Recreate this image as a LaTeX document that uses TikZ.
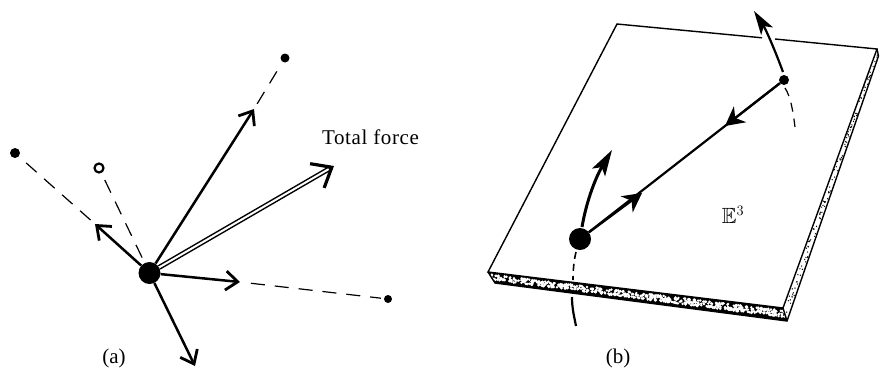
\documentclass[tikz,border=0pt]{standalone}
\usepackage{amssymb}
\usepackage{fontspec}
\setmainfont{Liberation Serif}
\newfontfamily\spaced[LetterSpace=3]{Liberation Serif}
\usetikzlibrary{arrows.meta,calc}
\begin{document}
\begin{tikzpicture}[x=1pt,y=-1pt,
  bigdot/.style={circle,fill=black,inner sep=0pt,minimum size=#1},
  ring/.style={circle,draw=black,line width=2.2pt,fill=white,inner sep=0pt,minimum size=9pt},
  force/.style={line width=2.5pt,-{Straight Barb[length=12pt,width=19pt,line width=2.8pt]}},
  thin dash/.style={line width=1.2pt,dash pattern=on 14pt off 10pt},
  plate/.style={line width=1.4pt},
  flow/.style={line width=2.2pt,-{Stealth[length=19pt,width=20pt,inset=6pt]}},
  label/.style={font=\fontsize{21}{24}\selectfont,inner sep=0pt}]
\useasboundingbox (0,0) rectangle (880,368);
% ---------- panel (a)
\node[bigdot=22pt] (c) at (149.5,273) {};
\node[bigdot=9pt] (p1) at (285,58) {};
\node[bigdot=10pt] (p2) at (15,153) {};
\node[ring] (p3) at (99,168) {};
\node[bigdot=8pt] (p4) at (388,299) {};
\coordinate (t1) at (254,109);
\coordinate (t2) at (334,166);
\coordinate (t3) at (240,282);
\coordinate (t4) at (95,224);
\coordinate (t5) at (195,366);
\coordinate (t2s) at ($(t2)!3pt!(c)$);
\draw[force] (c) -- (t1);
\draw[force] (c) -- (t3);
\draw[force] (c) -- (t4);
\draw[force] (c) -- (t5);
\draw[line width=1.5pt,double=white,double distance=2pt] (c) -- (t2s);
\draw[line width=2.6pt,-{Straight Barb[length=17pt,width=28pt,line width=3.2pt]}] ($(t2)!6pt!(c)$) -- (t2);
\draw[thin dash,shorten >=2pt,shorten <=6pt] (t1) -- (p1);
\draw[thin dash,shorten >=3pt,shorten <=6pt] (t4) -- (p2);
\draw[thin dash,shorten >=3pt,shorten <=6pt] (c) -- (p3);
\draw[thin dash,shorten >=3pt,shorten <=11pt] (t3) -- (p4);
\node[font=\spaced\fontsize{21}{24}\selectfont,inner sep=0pt] (tf) at (370.5,137) {Total force};
\node[label] (la) at (114,358) {(a)};
% ---------- panel (b)
\coordinate (A) at (617,24);
\coordinate (G1) at (762,37.8);
\coordinate (G2) at (775,39);
\coordinate (B) at (877,49);
\coordinate (B2) at (878.5,56);
\coordinate (C) at (783,308);
\coordinate (C2) at (787,321);
\coordinate (D) at (488,272);
\coordinate (D2) at (495,283);
\begin{scope}
\clip (D) -- (C) -- (C2) -- (D2) -- cycle;
\fill[black] (D) -- (C) -- (C2) -- (D2) -- cycle;
\pgfmathsetseed{17}
\foreach \i in {0,...,620}{
  \pgfmathsetmacro{\u}{rnd}
  \pgfmathsetmacro{\v}{0.2+0.52*rnd}
  \fill[white] ($($(D)!\u!(C)$)!\v!($(D2)!\u!(C2)$)$) circle (1.35pt);
}
\end{scope}
\begin{scope}
\pgfmathsetseed{5}
\foreach \i in {0,...,110}{
  \pgfmathsetmacro{\u}{rnd}
  \pgfmathsetmacro{\v}{0.2+0.6*rnd}
  \fill[black] ($($(C)!\u!(B)$)!\v!($(C2)!\u!(B2)$)$) circle (0.7pt);
}
\end{scope}
\draw[plate] (G2) -- (B) -- (C) -- (D) -- (A) -- (G1);
\draw[plate] (D) -- (D2) -- (C2) -- (B2) -- (B);
\draw[plate] (C) -- (C2);
\node[bigdot=22pt] (m1) at (580,239) {};
\node[bigdot=10pt] (m2) at (784,80) {};
\coordinate (f1) at (642,193);
\coordinate (f2) at (725,126);
\coordinate (v1) at (754,11);
\coordinate (v1s) at (783,72);
\coordinate (v2) at (612,150);
\coordinate (v2s) at (582,227);
\coordinate (d1) at (795,127);
\coordinate (d2a) at (576,252);
\coordinate (d2b) at (573,280);
\coordinate (s2a) at (572,297);
\coordinate (s2b) at (576,326);
\draw[line width=2.2pt] (m1) -- (m2);
\draw[flow] (m1) -- (f1);
\draw[flow] (m2) -- (f2);
\draw[line width=2.2pt,-{Stealth[length=24pt,width=14pt,inset=6pt]}] (v1s) .. controls (773,45) and (765,28) .. (v1);
\draw[line width=3pt,-{Stealth[length=26pt,width=15pt,inset=6pt]}] (v2s) .. controls (587,198) and (597,175) .. (v2);
\draw[line width=1.2pt,dash pattern=on 9pt off 7pt] (m2) ++(1,8) .. controls (791,97) and (793,112) .. (d1);
\draw[line width=1.6pt,dash pattern=on 7pt off 5pt] (d2a) .. controls (574,260) and (573,270) .. (d2b);
\draw[line width=2.2pt] (s2a) .. controls (572,308) and (574,316) .. (s2b);
\node[inner sep=0pt,font=\fontsize{22}{24}\selectfont] (e3) at (733,215) {$\mathbb{E}^3$};
\node[label] (lb) at (618,358) {(b)};
\end{tikzpicture}
\end{document}
